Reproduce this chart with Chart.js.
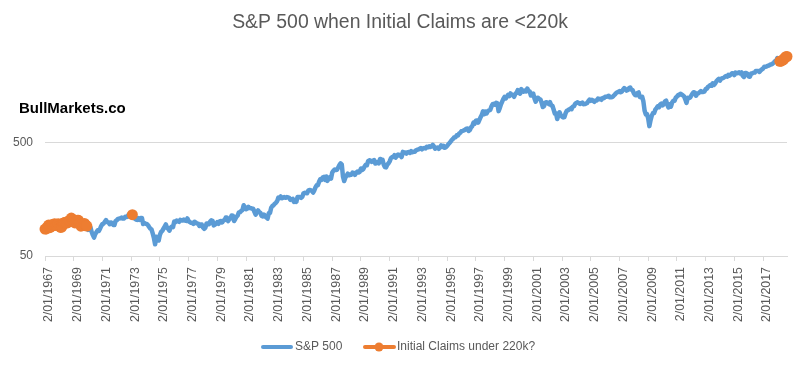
<!DOCTYPE html>
<html>
<head>
<meta charset="utf-8">
<script src="https://cdn.jsdelivr.net/npm/chart.js@4.4.0/dist/chart.umd.min.js"></script>
<style>
html,body{margin:0;padding:0;background:#fff;}
#wrap{width:800px;height:366px;position:relative;}
</style>
</head>
<body>
<div id="wrap"><canvas id="c" width="800" height="366"></canvas></div>
<script>
// ---- DATA ----
const chartTitle = "S&P 500 when Initial Claims are <220k";
const watermark = "BullMarkets.co";
const seriesNames = ["S&P 500", "Initial Claims under 220k?"];
const firstYear = 1967;
const yTickValues = [50, 500];

// S&P 500 monthly (Jan 1967 .. Sep 2018)
const sp500 = [
  86.6, 86.8, 90.2, 94.0, 89.1, 90.6, 94.8, 93.6, 96.7, 93.3, 94.0, 96.5,
  92.2, 89.4, 90.2, 97.6, 98.7, 99.6, 97.7, 98.9, 102.7, 103.4, 108.4, 103.9,
  103.0, 98.1, 101.5, 103.7, 103.5, 97.7, 91.8, 95.5, 93.1, 97.2, 93.8, 92.1,
  85.0, 89.5, 89.6, 81.5, 76.6, 72.7, 78.1, 81.5, 84.2, 83.3, 87.2, 92.2,
  95.9, 96.8, 100.3, 103.9, 99.6, 99.7, 95.6, 99.0, 98.3, 94.2, 94.0, 102.1,
  103.9, 106.6, 107.2, 107.7, 109.5, 107.1, 107.4, 111.1, 110.6, 111.6, 116.7, 118.1,
  116.0, 116.0, 111.5, 107.0, 105.0, 104.3, 108.2, 104.3, 108.4, 108.3, 96.0, 97.6,
  96.6, 96.2, 94.0, 90.3, 87.3, 86.0, 79.3, 72.2, 63.5, 73.9, 70.0, 68.6,
  77.0, 81.6, 83.4, 87.3, 91.2, 95.2, 88.8, 86.9, 83.9, 89.0, 91.2, 90.2,
  100.9, 99.7, 102.8, 101.6, 100.2, 104.3, 103.4, 102.9, 105.2, 102.9, 102.1, 107.5,
  102.0, 99.8, 98.4, 98.4, 96.1, 100.5, 98.9, 96.8, 96.5, 92.3, 94.8, 95.1,
  89.3, 87.0, 89.2, 97.0, 97.2, 95.5, 100.7, 103.3, 102.5, 93.2, 94.7, 96.1,
  99.9, 96.3, 101.6, 101.8, 99.1, 102.9, 103.8, 109.3, 109.3, 101.8, 106.2, 107.9,
  114.2, 113.7, 102.1, 106.3, 111.2, 114.2, 121.7, 122.4, 125.5, 127.5, 140.5, 135.8,
  129.6, 131.3, 136.0, 132.8, 132.6, 131.2, 130.9, 122.8, 116.2, 121.9, 126.4, 122.6,
  120.4, 113.1, 112.0, 116.4, 111.9, 109.6, 107.1, 119.5, 120.4, 133.7, 138.5, 140.6,
  145.3, 148.1, 153.0, 164.4, 162.4, 168.1, 162.6, 164.4, 166.1, 163.6, 166.4, 164.9,
  163.4, 157.1, 159.2, 160.1, 150.6, 153.2, 150.7, 166.7, 166.1, 166.1, 163.6, 167.2,
  179.6, 181.2, 180.7, 179.8, 189.6, 191.9, 190.9, 188.6, 182.1, 189.8, 202.2, 211.3,
  211.8, 226.9, 238.9, 235.5, 247.4, 250.8, 236.1, 252.9, 231.3, 244.0, 249.2, 242.2,
  274.1, 284.2, 291.7, 288.4, 290.1, 304.0, 318.7, 329.8, 321.8, 251.8, 230.3, 247.1,
  257.1, 267.8, 258.9, 261.3, 262.2, 273.5, 272.0, 261.5, 272.0, 279.0, 273.7, 277.7,
  297.5, 288.9, 294.9, 309.6, 320.5, 318.0, 346.1, 351.5, 349.2, 340.4, 346.0, 353.4,
  329.1, 331.9, 339.9, 330.8, 361.2, 358.0, 356.2, 322.6, 306.1, 304.0, 322.2, 330.2,
  343.9, 367.1, 375.2, 375.3, 389.8, 371.2, 387.8, 395.4, 387.9, 392.5, 375.2, 417.1,
  408.8, 412.7, 403.7, 415.0, 415.4, 408.1, 424.2, 414.0, 417.8, 418.7, 431.4, 435.7,
  438.8, 443.4, 451.7, 440.2, 450.2, 450.5, 448.1, 463.6, 458.9, 467.8, 461.8, 466.5,
  481.6, 467.1, 445.8, 450.9, 456.5, 444.3, 458.3, 475.5, 462.7, 472.4, 453.7, 459.3,
  470.4, 487.4, 500.7, 514.7, 533.4, 544.8, 562.1, 561.9, 584.4, 581.5, 605.4, 615.9,
  636.0, 640.4, 645.5, 654.2, 669.1, 670.6, 640.0, 652.0, 687.3, 705.3, 757.0, 740.7,
  786.2, 790.8, 757.1, 801.3, 848.3, 885.1, 954.3, 899.5, 947.3, 914.6, 955.4, 970.4,
  980.3, 1049.3, 1101.8, 1111.8, 1090.8, 1133.8, 1120.7, 957.3, 1017.0, 1098.7, 1163.6, 1229.2,
  1279.6, 1238.3, 1286.4, 1335.2, 1301.8, 1372.7, 1328.7, 1320.4, 1282.7, 1362.9, 1388.9, 1469.3,
  1394.5, 1366.4, 1498.6, 1452.4, 1420.6, 1454.6, 1430.8, 1517.7, 1436.5, 1429.4, 1315.2, 1320.3,
  1366.0, 1239.9, 1160.3, 1249.5, 1255.8, 1224.4, 1211.2, 1133.6, 1040.9, 1059.8, 1139.5, 1148.1,
  1130.2, 1106.7, 1147.4, 1076.9, 1067.1, 989.8, 911.6, 916.1, 815.3, 885.8, 936.3, 879.8,
  855.7, 841.2, 848.2, 916.9, 963.6, 974.5, 990.3, 1008.0, 996.0, 1050.7, 1058.2, 1111.9,
  1131.1, 1144.9, 1126.2, 1107.3, 1120.7, 1140.8, 1101.7, 1104.2, 1114.6, 1130.2, 1173.8, 1211.9,
  1181.3, 1203.6, 1180.6, 1156.9, 1191.5, 1191.3, 1234.2, 1220.3, 1228.8, 1207.0, 1249.5, 1248.3,
  1280.1, 1280.7, 1294.9, 1310.6, 1270.1, 1270.2, 1276.7, 1303.8, 1335.9, 1377.9, 1400.6, 1418.3,
  1438.2, 1406.8, 1420.9, 1482.4, 1530.6, 1503.4, 1455.3, 1474.0, 1526.8, 1549.4, 1481.1, 1468.4,
  1378.6, 1330.6, 1322.7, 1385.6, 1400.4, 1280.0, 1267.4, 1282.8, 1166.4, 968.8, 896.2, 903.3,
  825.9, 705.0, 797.9, 872.8, 919.1, 919.3, 987.5, 1020.6, 1057.1, 1036.2, 1095.6, 1115.1,
  1073.9, 1104.5, 1169.4, 1186.7, 1089.4, 1030.7, 1101.6, 1049.3, 1141.2, 1183.3, 1180.6, 1257.6,
  1286.1, 1327.2, 1325.8, 1363.6, 1345.2, 1320.6, 1292.3, 1218.9, 1131.4, 1253.3, 1247.0, 1257.6,
  1312.4, 1365.7, 1408.5, 1397.9, 1310.3, 1362.2, 1379.3, 1406.6, 1440.7, 1412.2, 1416.2, 1426.2,
  1498.1, 1514.7, 1569.2, 1597.6, 1630.7, 1606.3, 1685.7, 1633.0, 1681.6, 1756.5, 1805.8, 1848.4,
  1782.6, 1859.5, 1872.3, 1884.0, 1923.6, 1960.2, 1930.7, 2003.4, 1972.3, 2018.1, 2067.6, 2058.9,
  1995.0, 2104.5, 2067.9, 2085.5, 2107.4, 2063.1, 2103.8, 1972.2, 1920.0, 2079.4, 2080.4, 2043.9,
  1940.2, 1932.2, 2059.7, 2065.3, 2097.0, 2098.9, 2173.6, 2171.0, 2168.3, 2126.2, 2198.8, 2238.8,
  2278.9, 2363.6, 2362.7, 2384.2, 2411.8, 2423.4, 2470.3, 2471.7, 2519.4, 2575.3, 2647.6, 2673.6,
  2823.8, 2713.8, 2640.9, 2648.1, 2705.3, 2718.4, 2816.3, 2901.5, 2914.0
];

// periods when initial claims were under 220k (first and last month)
const claimsUnder220kPeriods = [
  ["2/01/1967", "2/12/1969"],
  ["2/02/1973", "2/02/1973"],
  ["2/03/2018", "2/09/2018"]
];

// ---- BUILD ----
const labels = sp500.map((v, i) => {
  const y = firstYear + Math.floor(i / 12);
  const m = (i % 12) + 1;
  return "2/" + String(m).padStart(2, "0") + "/" + y;
});
const claimsSeries = sp500.map(() => null);
claimsUnder220kPeriods.forEach(([a, b]) => {
  const s = labels.indexOf(a), e = labels.indexOf(b);
  for (let i = s; i <= e; i++) claimsSeries[i] = sp500[i];
});

const FONT = "'Liberation Sans', Arial, sans-serif";
const GREY = "#595959";
const BLUE = "#5B9BD5";
const ORANGE = "#ED7D31";

const overlay = {
  id: "overlay",
  afterDraw(chart) {
    const ctx = chart.ctx;
    ctx.save();
    ctx.fillStyle = "#000";
    ctx.font = "bold 15px " + FONT;
    ctx.textBaseline = "middle";
    ctx.textAlign = "left";
    ctx.fillText(watermark, 19, 109);

    // legend
    const ly = 347;
    ctx.lineCap = "round";
    ctx.strokeStyle = BLUE;
    ctx.lineWidth = 4;
    ctx.beginPath(); ctx.moveTo(263, ly); ctx.lineTo(291, ly); ctx.stroke();
    ctx.font = "12px " + FONT;
    ctx.fillStyle = GREY;
    ctx.fillText(seriesNames[0], 295, ly);
    ctx.strokeStyle = ORANGE;
    ctx.beginPath(); ctx.moveTo(365, ly); ctx.lineTo(394, ly); ctx.stroke();
    ctx.fillStyle = ORANGE;
    ctx.beginPath(); ctx.arc(379, ly, 4.5, 0, Math.PI * 2); ctx.fill();
    ctx.fillStyle = GREY;
    ctx.fillText(seriesNames[1], 397, ly);
    ctx.restore();
  }
};

new Chart(document.getElementById("c"), {
  type: "line",
  data: {
    labels: labels,
    datasets: [
      {
        label: seriesNames[0],
        data: sp500,
        borderColor: BLUE,
        backgroundColor: BLUE,
        borderWidth: 4.5,
        pointRadius: 0,
        borderJoinStyle: "round",
        borderCapStyle: "round",
        tension: 0,
        order: 1
      },
      {
        label: seriesNames[1],
        data: claimsSeries,
        borderColor: ORANGE,
        backgroundColor: ORANGE,
        borderWidth: 4,
        pointRadius: 5.5,
        pointBorderWidth: 0,
        pointBackgroundColor: ORANGE,
        borderJoinStyle: "round",
        borderCapStyle: "round",
        spanGaps: false,
        tension: 0,
        clip: false,
        order: 0
      }
    ]
  },
  options: {
    responsive: false,
    animation: false,
    events: [],
    layout: { padding: { left: 13, right: 13, top: 0, bottom: 35 } },
    plugins: {
      legend: { display: false },
      tooltip: { enabled: false },
      title: {
        display: true,
        text: chartTitle,
        color: GREY,
        font: { family: FONT, size: 19.4, weight: "normal" },
        padding: { top: 11, bottom: 6 }
      }
    },
    scales: {
      x: {
        type: "category",
        offset: false,
        grid: { display: true, drawOnChartArea: false, drawTicks: true, tickLength: 5, color: "#D9D9D9" },
        border: { display: true, color: "#D9D9D9", width: 1 },
        ticks: {
          autoSkip: false,
          minRotation: 90,
          maxRotation: 90,
          color: GREY,
          font: { family: FONT, size: 12.4 },
          padding: 6,
          labelOffset: 4,
          callback: function (v) { return this.getLabelForValue(v); }
        },
        afterBuildTicks(s) { s.ticks = s.ticks.filter(t => t.value % 24 === 0); },
        afterFit(s) { s.height = 75; }
      },
      y: {
        type: "logarithmic",
        min: 50,
        max: 4055,
        grid: { color: "#D9D9D9", drawTicks: false, lineWidth: 1 },
        border: { display: false },
        ticks: {
          color: GREY,
          font: { family: FONT, size: 12 },
          padding: 12,
          callback: v => String(v)
        },
        afterBuildTicks(s) { s.ticks = yTickValues.map(v => ({ value: v })); },
        afterFit(s) { s.width = 32; }
      }
    }
  },
  plugins: [overlay]
});
</script>
</body>
</html>
